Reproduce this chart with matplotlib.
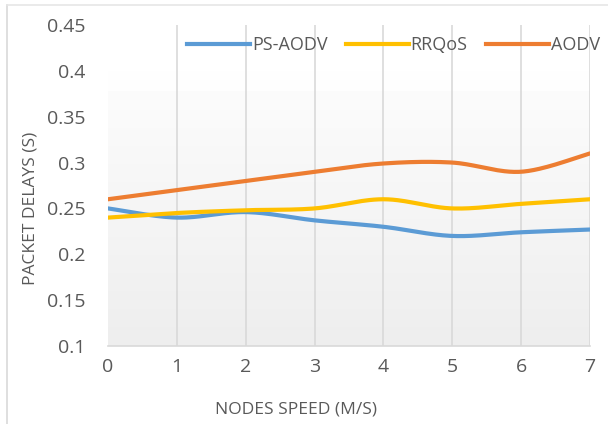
import numpy as np
import matplotlib
matplotlib.use("Agg")
import matplotlib.pyplot as plt
from matplotlib.lines import Line2D

speeds = [0, 1, 2, 3, 4, 5, 6, 7]
ps_aodv = [0.250, 0.240, 0.246, 0.237, 0.230, 0.220, 0.224, 0.227]
rrqos = [0.240, 0.245, 0.248, 0.250, 0.260, 0.250, 0.255, 0.260]
aodv = [0.260, 0.270, 0.280, 0.290, 0.299, 0.300, 0.290, 0.310]
series_names = ["PS-AODV", "RRQoS", "AODV"]
colors = ["#5B9BD5", "#FFC000", "#ED7D31"]
yticks = [0.1, 0.15, 0.2, 0.25, 0.3, 0.35, 0.4, 0.45]
ytick_labels = ["0.1", "0.15", "0.2", "0.25", "0.3", "0.35", "0.4", "0.45"]

plt.rcParams['font.family'] = ['Open Sans', 'DejaVu Sans']


def smooth(x, y, n=30, tension=0.5):
    # Catmull-Rom style smoothing (like Excel smoothed lines)
    x = np.asarray(x, float)
    y = np.asarray(y, float)
    px = np.concatenate([[x[0]], x, [x[-1]]])
    py = np.concatenate([[y[0]], y, [y[-1]]])
    xs, ys = [], []
    for i in range(1, len(px) - 2):
        p0, p1, p2, p3 = (np.array([px[j], py[j]]) for j in (i - 1, i, i + 1, i + 2))
        c1 = p1 + (p2 - p0) * tension / 3
        c2 = p2 - (p3 - p1) * tension / 3
        t = np.linspace(0, 1, n)[:, None]
        pts = ((1 - t) ** 3) * p1 + 3 * ((1 - t) ** 2) * t * c1 + 3 * (1 - t) * t ** 2 * c2 + t ** 3 * p2
        xs.extend(pts[:, 0])
        ys.extend(pts[:, 1])
    return np.array(xs), np.array(ys)


fig = plt.figure(figsize=(6.08, 4.24), dpi=100)
ax = fig.add_axes([108 / 608, 1 - 346 / 424, (590 - 108) / 608, (346 - 25) / 424])

ax.set_xlim(0, 7)
ax.set_ylim(0.1, 0.45)

# gradient plot-area background
grad = np.linspace(0, 1, 256)[:, None]
cmap = matplotlib.colors.LinearSegmentedColormap.from_list("g", ["#eeeeee", "#fcfcfc"])
ax.imshow(grad, extent=[0, 7, 0.1, 0.378], origin="lower", aspect="auto", cmap=cmap, zorder=0)
ax.fill_between([0, 7], 0.378, 0.40, color="#fefefe", zorder=0, lw=0)

for x in speeds[1:]:
    ax.axvline(x, color="#d9d9d9", lw=1.2, zorder=1)

for vals, c in zip([ps_aodv, rrqos, aodv], colors):
    sx, sy = smooth(speeds, vals)
    ax.plot(sx, sy, color=c, lw=3, solid_capstyle="round", zorder=3)

for s in ["top", "right", "left"]:
    ax.spines[s].set_visible(False)
ax.spines["bottom"].set_color("#d9d9d9")
ax.spines["bottom"].set_linewidth(1.2)

ax.set_yticks(yticks)
ax.set_yticklabels(ytick_labels)
ax.set_xticks(speeds)
ax.tick_params(length=0, labelsize=14, colors="#595959")
ax.tick_params(axis="x", pad=9)
ax.tick_params(axis="y", pad=16)

ax.set_xlabel("NODES SPEED (M/S)", fontsize=12.5, color="#595959")
ax.set_ylabel("PACKET DELAYS (S)", fontsize=12.5, color="#595959")
ax.yaxis.set_label_coords(-0.145, 0.43)
ax.xaxis.set_label_coords(0.39, -0.172)

handles = [Line2D([0], [0], color=c, lw=3) for c in colors]
fig.legend(handles, series_names, loc="center", bbox_to_anchor=(0.647, 1 - 45 / 424),
           ncol=3, frameon=False, fontsize=13, handlelength=3.5, handletextpad=0.1,
           columnspacing=1.0, labelcolor="#595959")

# outer chart border
fig.add_artist(Line2D([7 / 608, 7 / 608], [0, 1 - 5 / 424], color="#d9d9d9", lw=1.2))
fig.add_artist(Line2D([7 / 608, 1], [1 - 5 / 424, 1 - 5 / 424], color="#e6e6e6", lw=1.2))

fig.savefig("out.png", dpi=100)
